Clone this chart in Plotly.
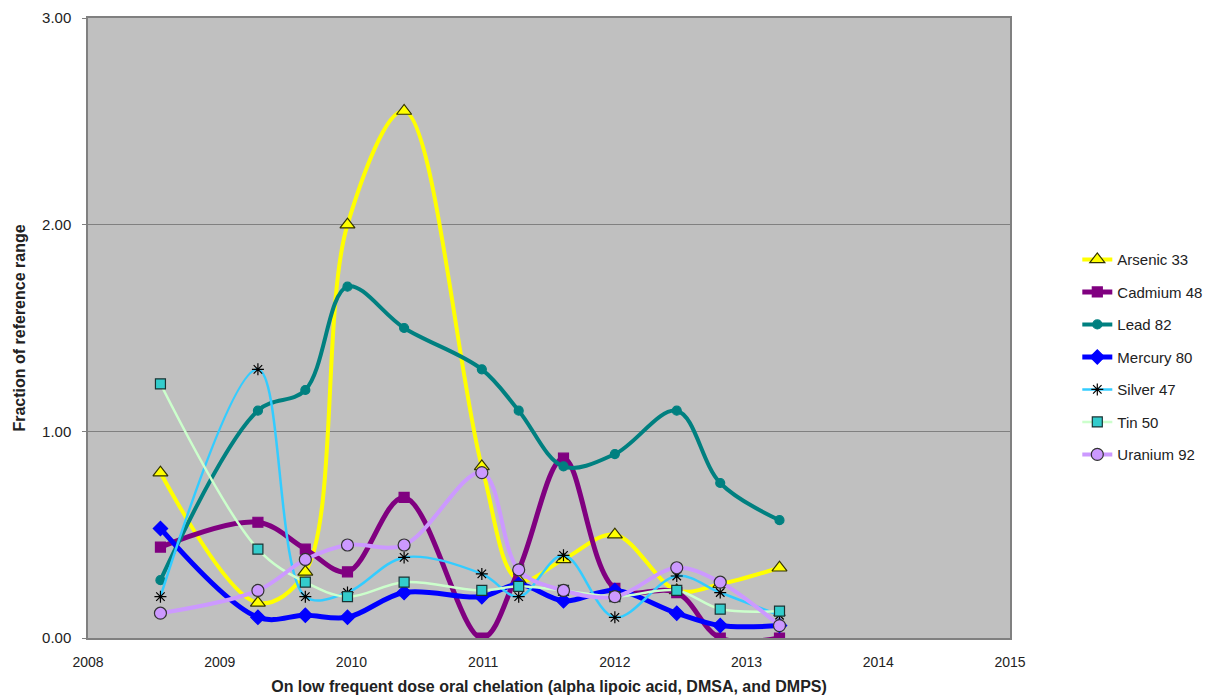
import plotly.graph_objects as go

# Sample dates (decimal years)
dates = [2008.55, 2009.29, 2009.65, 2009.97, 2010.40, 2010.99,
         2011.27, 2011.61, 2012.00, 2012.47, 2012.80, 2013.25]

# Fraction of reference range per element
arsenic = [0.80, 0.17, 0.32, 2.00, 2.55, 0.83, 0.28, 0.38, 0.50, 0.23, 0.26, 0.34]
cadmium = [0.44, 0.56, 0.43, 0.32, 0.68, 0.00, 0.33, 0.87, 0.24, 0.22, 0.00, 0.00]
lead = [0.28, 1.10, 1.20, 1.70, 1.50, 1.30, 1.10, 0.83, 0.89, 1.10, 0.75, 0.57]
mercury = [0.53, 0.10, 0.11, 0.10, 0.22, 0.20, 0.26, 0.18, 0.23, 0.12, 0.06, 0.06]
silver = [0.20, 1.30, 0.20, 0.22, 0.39, 0.31, 0.20, 0.40, 0.10, 0.30, 0.22, 0.11]
tin = [1.23, 0.43, 0.27, 0.20, 0.27, 0.23, 0.25, 0.23, 0.20, 0.23, 0.14, 0.13]
uranium = [0.12, 0.23, 0.38, 0.45, 0.45, 0.80, 0.33, 0.23, 0.20, 0.34, 0.27, 0.06]

x_ticks = [2008, 2009, 2010, 2011, 2012, 2013, 2014, 2015]
y_ticks = [0, 1, 2, 3]

series = [
    ("Arsenic 33", arsenic, "#ffff00", 4, "triangle-up", "#ffff00", "#333300", 13),
    ("Cadmium 48", cadmium, "#800080", 5, "square", "#800080", "#800080", 10),
    ("Lead 82", lead, "#008080", 4, "circle", "#008080", "#008080", 9),
    ("Mercury 80", mercury, "#0000ff", 5, "diamond", "#0000ff", "#0000ff", 11),
    ("Silver 47", silver, "#33ccff", 2.5, "asterisk-open", "#000000", "#1a1a1a", 10),
    ("Tin 50", tin, "#ccffcc", 2.5, "square", "#33cccc", "#1a3333", 10),
    ("Uranium 92", uranium, "#cc99ff", 4, "circle", "#cc99ff", "#333333", 12),
]

fig = go.Figure()
for name, vals, lcolor, lwidth, symbol, mfill, mline, msize in series:
    fig.add_trace(go.Scatter(
        x=dates, y=vals, name=name, mode="lines+markers",
        legendgroup=name,
        line=dict(color=lcolor, width=lwidth, shape="spline", smoothing=1.0),
        marker=dict(symbol=symbol, size=msize, color=mfill,
                    line=dict(color=mline, width=1.2)),
    ))

fig.update_layout(
    width=1222, height=700,
    margin=dict(l=88, r=212, t=18, b=62),
    paper_bgcolor="#ffffff",
    plot_bgcolor="#c0c0c0",
    font=dict(family="Liberation Sans, Arial, sans-serif", color="#222222", size=14),
    showlegend=True,
    legend=dict(
        x=1.073, xanchor="left", y=0.453, yanchor="middle",
        font=dict(size=15, color="#222222"),
        traceorder="grouped", tracegroupgap=10,
        bgcolor="rgba(0,0,0,0)",
    ),
    xaxis=dict(
        range=[2008, 2015], tickvals=x_ticks,
        ticktext=[str(v) for v in x_ticks],
        showgrid=False, zeroline=False, automargin=False,
        showline=True, linecolor="#808080", linewidth=1.5, mirror=True,
        ticks="", ticklabelstandoff=10,
        tickfont=dict(size=14),
        title=dict(text="<b>On low frequent dose oral chelation (alpha lipoic acid, DMSA, and DMPS)</b>",
                   font=dict(size=16), standoff=12),
    ),
    yaxis=dict(
        range=[0, 3], tickvals=y_ticks, tickformat=".2f",
        showgrid=True, gridcolor="#808080", gridwidth=1,
        zeroline=False, automargin=False,
        showline=True, linecolor="#808080", linewidth=1.5, mirror=True,
        ticks="outside", ticklen=4, tickcolor="#808080",
        ticklabelstandoff=8,
        tickfont=dict(size=15),
        title=dict(text="<b>Fraction of reference range</b>", font=dict(size=16), standoff=12),
    ),
)

fig.write_html("out.html")
